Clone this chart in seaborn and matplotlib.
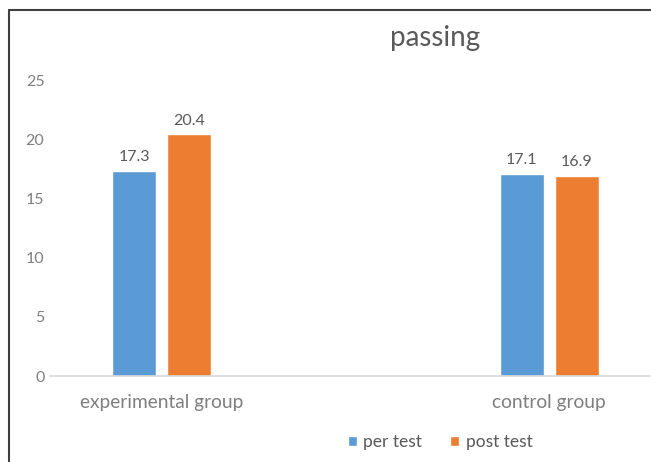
import matplotlib
matplotlib.use("Agg")
import matplotlib.pyplot as plt
import seaborn as sns
import pandas as pd

# Scores for each group before and after training
groups = ["experimental group", "control group"]
series = ["per test", "post test"]
pre_scores = [17.3, 17.1]
post_scores = [20.4, 16.9]
y_ticks = [0, 5, 10, 15, 20, 25]

colors = ["#5B9BD5", "#ED7D31"]
text_grey = "#595959"
tick_grey = "#7F7F7F"

df = pd.DataFrame({
    "group": groups * 2,
    "test": [series[0]] * 2 + [series[1]] * 2,
    "score": pre_scores + post_scores,
})

sns.set_theme(style="white")
plt.rcParams["font.family"] = ["Lato", "DejaVu Sans"]

fig = plt.figure(figsize=(6.51, 4.62), dpi=100)
ax = fig.add_axes([50 / 651, 86 / 462, 600 / 651, 296 / 462])

sns.barplot(data=df, x="group", y="score", hue="test", order=groups,
            hue_order=series, palette=colors, width=0.284, gap=0.2,
            saturation=1, ax=ax, legend=True)

for cont in ax.containers:
    ax.bar_label(cont, fmt="%.1f", padding=5, color=text_grey, fontsize=11.5)

ax.set_ylim(0, 25)
ax.set_yticks(y_ticks)
ax.set_xlim(-0.289, 1.26)
ax.set_xlabel("")
ax.set_ylabel("")
for s in ["top", "right", "left"]:
    ax.spines[s].set_visible(False)
ax.spines["bottom"].set_color("#D9D9D9")
ax.spines["bottom"].set_linewidth(1.2)
ax.tick_params(axis="y", length=0, pad=4, labelsize=11.5, labelcolor=tick_grey)
ax.tick_params(axis="x", length=0, pad=13, labelsize=13.8, labelcolor=tick_grey)

fig.text(435 / 651, 1 - 38 / 462, "passing", ha="center", va="center",
         fontsize=20, color=text_grey)

leg = ax.legend(loc="center", bbox_to_anchor=(440 / 651, 1 - 442 / 462),
                bbox_transform=fig.transFigure, ncol=2, frameon=False,
                handlelength=0.55, handleheight=0.55, handletextpad=0.35,
                columnspacing=1.6, fontsize=12.5)
for t in leg.get_texts():
    t.set_color(text_grey)

# Outer frame along the top and left edges
fig.add_artist(plt.Line2D([9 / 651, 1], [1 - 10 / 462, 1 - 10 / 462],
                          transform=fig.transFigure, color="#404040", lw=1.5))
fig.add_artist(plt.Line2D([9 / 651, 9 / 651], [0, 1 - 10 / 462],
                          transform=fig.transFigure, color="#404040", lw=1.5))

fig.savefig("out.png", dpi=100)
